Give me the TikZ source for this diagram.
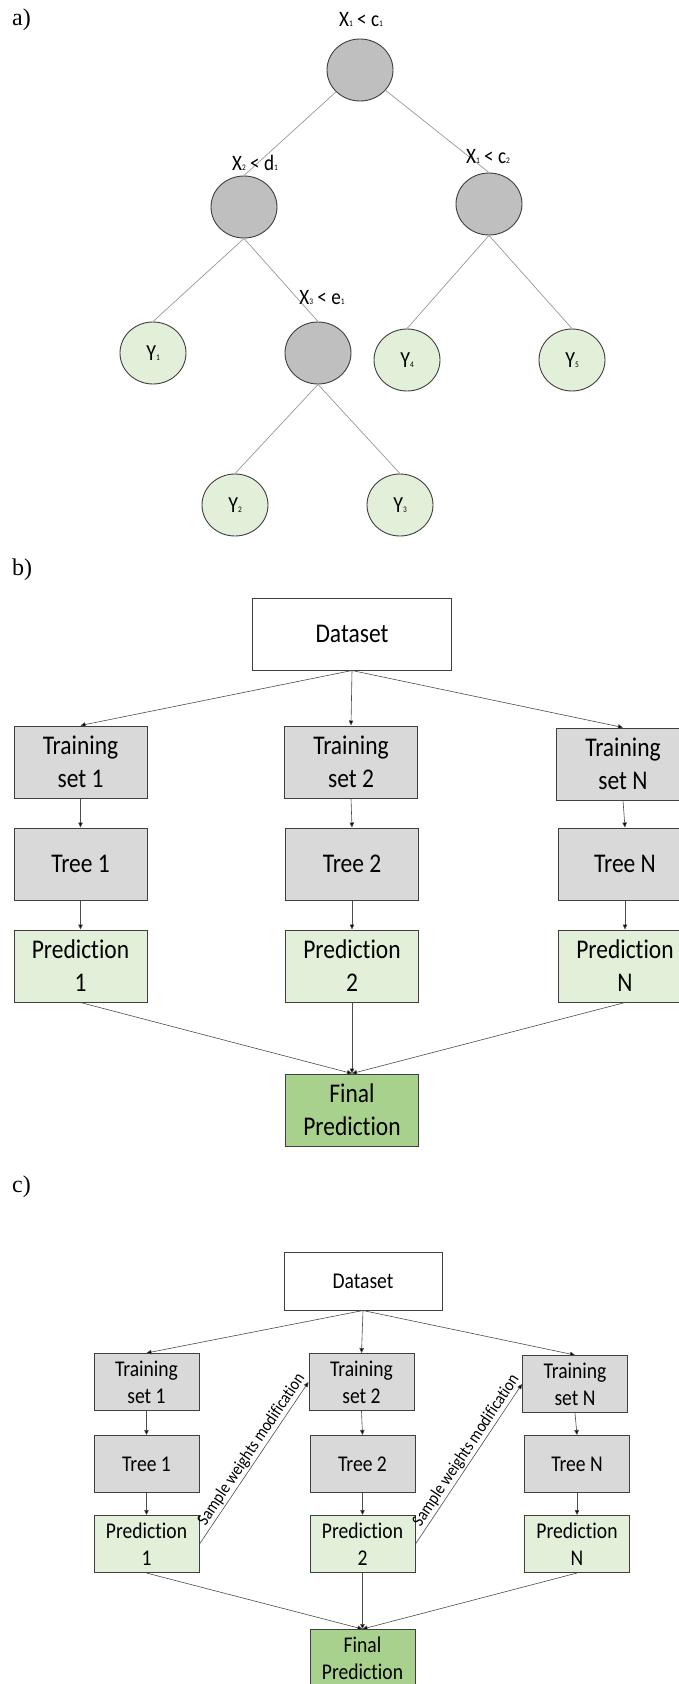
\documentclass[tikz,border=0pt]{standalone}
\usepackage{fontspec}
\setmainfont[FakeStretch=0.87,Ligatures=NoCommon]{Carlito}
\newfontfamily\tnr{Liberation Serif}
\usetikzlibrary{shapes.geometric,arrows.meta}
\definecolor{nodegray}{HTML}{BFBFBF}
\definecolor{boxgray}{HTML}{D9D9D9}
\definecolor{predgreen}{HTML}{E2F0D9}
\definecolor{finalgreen}{HTML}{A9D18E}
\definecolor{edgeline}{HTML}{3F3F3F}
\newcommand\mysub[1]{{\fontsize{8.5}{8.5}\selectfont #1}}
\newcommand\predw{Predict\kern0pt ion}
\newcommand\swmod{Sample weights modi\kern0pt f\kern0pt icat\kern0pt ion}
\tikzset{
  panellabel/.style={anchor=west,font=\tnr\fontsize{24}{24}\selectfont,inner sep=0},
  splitnode/.style={ellipse,draw=edgeline,line width=0.9pt,fill=nodegray,minimum width=66pt,minimum height=62pt,inner sep=0},
  leafnode/.style={ellipse,draw=edgeline,line width=0.9pt,fill=predgreen,minimum width=66pt,minimum height=62pt,inner sep=0,font=\fontsize{23}{23}\selectfont},
  condlabel/.style={font=\fontsize{22}{22}\selectfont,inner sep=0},
  treeedge/.style={draw=black!40,line width=0.7pt},
  bbox/.style={draw=edgeline,line width=1pt,minimum width=133pt,minimum height=72pt,inner sep=0,align=center,font=\fontsize{27}{33}\selectfont},
  cbox/.style={draw=edgeline,line width=1pt,minimum width=105pt,minimum height=57pt,inner sep=0,align=center,font=\fontsize{22.5}{27}\selectfont},
  flowarrow/.style={draw=black!70,line width=0.6pt,-{Triangle[length=5pt,width=4.5pt,fill=black]}},
  swlabel/.style={font=\fontsize{17.5}{17.5}\selectfont,inner sep=1.5pt}
}
\begin{document}
\begin{tikzpicture}[x=1pt,y=-1pt]
\useasboundingbox[fill=white] (0,0) rectangle (678,1684);
% ---------------- panel a
\node[panellabel] (la) at (12,20) {a)};
\node[splitnode] (n1) at (360,70) {};
\node[splitnode] (n2) at (244,207) {};
\node[splitnode] (n3) at (489,204) {};
\node[splitnode] (n4) at (318,353) {};
\node[leafnode] (y1) at (153,353) {Y\mysub{1}};
\node[leafnode] (y4) at (407,360) {Y\mysub{4}};
\node[leafnode] (y5) at (572,360) {Y\mysub{5}};
\node[leafnode] (y2) at (235,505) {Y\mysub{2}};
\node[leafnode] (y3) at (400,505) {Y\mysub{3}};
\draw[treeedge] (n1) -- (n2.north);
\draw[treeedge] (n1) -- (n3.north);
\draw[treeedge] (n2.south) -- (y1.north);
\draw[treeedge] (n2.south) -- (n4.north);
\draw[treeedge] (n3.south) -- (y4.north);
\draw[treeedge] (n3.south) -- (y5.north);
\draw[treeedge] (n4.south) -- (y2.north);
\draw[treeedge] (n4.south) -- (y3.north);
\node[condlabel] (c1) at (361,20) {X\mysub{1} < c\mysub{1}};
\node[condlabel] (c2) at (255,163) {X\mysub{2} < d\mysub{1}};
\node[condlabel] (c3) at (488,157) {X\mysub{1} < c\mysub{2}};
\node[condlabel] (c4) at (322,298) {X\mysub{3} < e\mysub{1}};
% ---------------- panel b
\node[panellabel] (lb) at (12,570) {b)};
\node[bbox,fill=white,minimum width=199pt] (bds) at (352,634) {Dataset};
\node[bbox,fill=boxgray] (bt1) at (80.5,762) {Training\\set 1};
\node[bbox,fill=boxgray] (bt2) at (351,762) {Training\\set 2};
\node[bbox,fill=boxgray] (btN) at (623,764) {Training\\set N};
\node[bbox,fill=boxgray] (br1) at (80.5,864) {Tree 1};
\node[bbox,fill=boxgray] (br2) at (352,864) {Tree 2};
\node[bbox,fill=boxgray] (brN) at (625,864) {Tree N};
\node[bbox,fill=predgreen] (bp1) at (80.5,966) {\predw\\1};
\node[bbox,fill=predgreen] (bp2) at (352,966) {\predw\\2};
\node[bbox,fill=predgreen] (bpN) at (625,966) {\predw\\N};
\node[bbox,fill=finalgreen] (bf) at (352,1110) {Final\\\predw};
\draw[flowarrow] (bds.south) -- (bt1.north);
\draw[flowarrow] (bds.south) -- (bt2.north);
\draw[flowarrow] (bds.south) -- (btN.north);
\draw[flowarrow] (bt1.south) -- (br1.north);
\draw[flowarrow] (bt2.south) -- (br2.north);
\draw[flowarrow] (btN.south) -- (brN.north);
\draw[flowarrow] (br1.south) -- (bp1.north);
\draw[flowarrow] (br2.south) -- (bp2.north);
\draw[flowarrow] (brN.south) -- (bpN.north);
\draw[flowarrow] (bp1.south) -- (bf.north);
\draw[flowarrow] (bp2.south) -- (bf.north);
\draw[flowarrow] (bpN.south) -- (bf.north);
% ---------------- panel c
\node[panellabel] (lc) at (12,1187) {c)};
\node[cbox,fill=white,minimum width=158pt,minimum height=58pt] (cds) at (363,1281) {Dataset};
\node[cbox,fill=boxgray] (ct1) at (146.5,1382) {Training\\set 1};
\node[cbox,fill=boxgray] (ct2) at (361.5,1382) {Training\\set 2};
\node[cbox,fill=boxgray] (ctN) at (575,1384) {Training\\set N};
\node[cbox,fill=boxgray] (cr1) at (146.5,1464) {Tree 1};
\node[cbox,fill=boxgray] (cr2) at (362.5,1464) {Tree 2};
\node[cbox,fill=boxgray] (crN) at (577,1464) {Tree N};
\node[cbox,fill=predgreen] (cp1) at (146.5,1544) {\predw\\1};
\node[cbox,fill=predgreen] (cp2) at (362.5,1544) {\predw\\2};
\node[cbox,fill=predgreen] (cpN) at (577,1544) {\predw\\N};
\node[cbox,fill=finalgreen] (cf) at (362.5,1658) {Final\\\predw};
\draw[flowarrow] (cds.south) -- (ct1.north);
\draw[flowarrow] (cds.south) -- (ct2.north);
\draw[flowarrow] (cds.south) -- (ctN.north);
\draw[flowarrow] (ct1.south) -- (cr1.north);
\draw[flowarrow] (ct2.south) -- (cr2.north);
\draw[flowarrow] (ctN.south) -- (crN.north);
\draw[flowarrow] (cr1.south) -- (cp1.north);
\draw[flowarrow] (cr2.south) -- (cp2.north);
\draw[flowarrow] (crN.south) -- (cpN.north);
\draw[flowarrow] (cp1.south) -- (cf.north);
\draw[flowarrow] (cp2.south) -- (cf.north);
\draw[flowarrow] (cpN.south) -- (cf.north);
\draw[flowarrow] (cp1.east) -- node[swlabel,sloped,above,pos=0.55] {\swmod} (ct2.west);
\draw[flowarrow] (cp2.east) -- node[swlabel,sloped,above,pos=0.55] {\swmod} (ctN.west);
\end{tikzpicture}
\end{document}
